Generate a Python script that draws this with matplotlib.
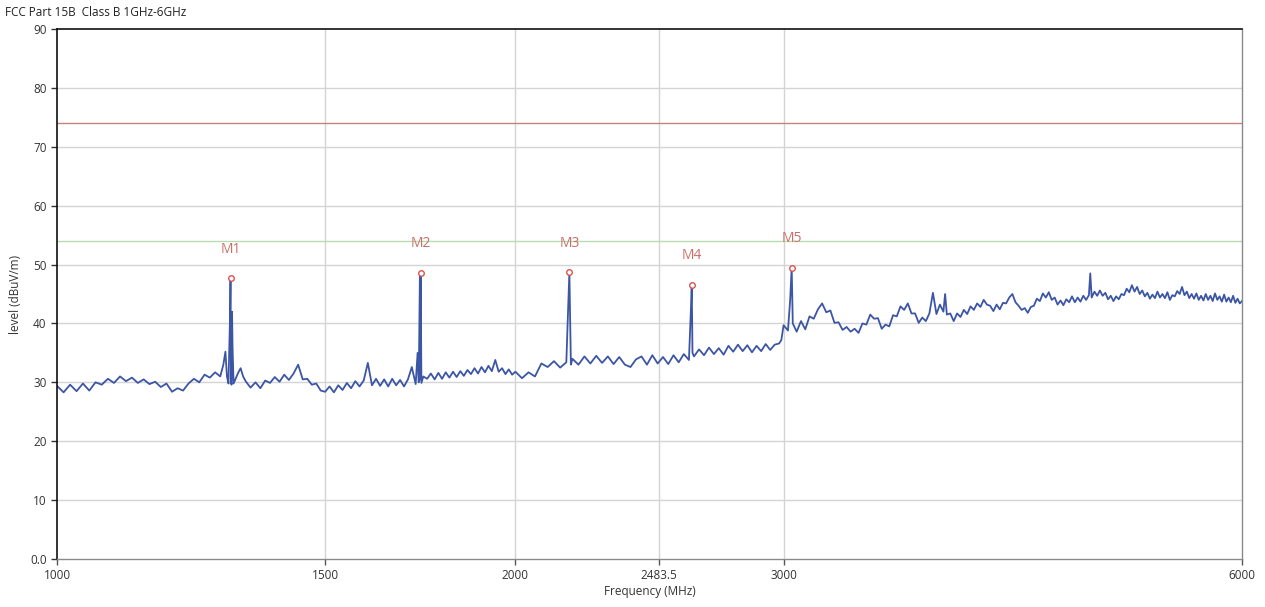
import matplotlib
matplotlib.use("Agg")
import matplotlib.pyplot as plt
from matplotlib.ticker import FixedLocator, FixedFormatter, NullLocator

# measured trace 1000-3000 MHz (MHz, dBuV/m)
freq_lo = [
    1000, 1010, 1020, 1030, 1040, 1050, 1060, 1070, 1080, 1090, 1100, 1110, 1120, 1130, 1140,
    1150, 1160, 1170, 1180, 1190, 1200, 1210, 1220, 1230, 1240, 1250, 1260, 1270, 1280,
    1286, 1290, 1293, 1296, 1299, 1300, 1301, 1302, 1303, 1304, 1306, 1310, 1315, 1320, 1325,
    1330, 1340, 1350, 1360, 1370, 1380, 1390, 1400, 1410, 1420, 1430, 1440, 1450, 1460, 1470,
    1480, 1490, 1500, 1510, 1520, 1530, 1540, 1550, 1560, 1570, 1580, 1590, 1600, 1610, 1620,
    1630, 1640, 1650, 1660, 1670, 1680, 1690, 1700, 1710, 1720, 1725, 1728, 1731, 1732, 1733,
    1735, 1740, 1750, 1760, 1770, 1780, 1790, 1800, 1810, 1820, 1830, 1840, 1850, 1860, 1870,
    1880, 1890, 1900, 1910, 1920, 1930, 1940, 1950, 1960, 1970, 1980, 1990, 2000, 2020, 2040,
    2060, 2080, 2100, 2120, 2140, 2160, 2165, 2170, 2172, 2175, 2180, 2200, 2220, 2240, 2260,
    2280, 2300, 2320, 2340, 2360, 2380, 2400, 2420, 2440, 2460, 2480, 2500, 2520, 2540, 2560,
    2580, 2600, 2608, 2611, 2614, 2620, 2640, 2660, 2680, 2700, 2720, 2740, 2760, 2780, 2800,
    2820, 2840, 2860, 2880, 2900, 2920, 2940, 2960, 2980, 2990, 3000,
]
level_lo = [
    29.4, 28.3, 29.6, 28.5, 29.8, 28.6, 30.0, 29.6, 30.6, 29.9, 31.0, 30.2, 30.8, 29.9, 30.5,
    29.7, 30.1, 29.2, 29.8, 28.4, 29.0, 28.6, 29.8, 30.6, 30.0, 31.3, 30.8, 31.7, 31.0,
    33.0, 35.2, 31.0, 29.8, 41.0, 47.7, 30.0, 29.6, 42.0, 36.0, 29.8, 30.6, 31.6, 32.4, 31.0,
    30.2, 29.1, 30.0, 29.0, 30.3, 29.9, 30.9, 30.1, 31.3, 30.4, 31.5, 33.0, 30.5, 30.6, 29.6,
    29.8, 28.6, 28.4, 29.3, 28.3, 29.5, 28.7, 29.9, 29.0, 30.2, 29.3, 30.3, 33.3, 29.5, 30.6,
    29.4, 30.5, 29.3, 30.6, 29.5, 30.4, 29.3, 30.5, 32.6, 29.7, 35.0, 30.0, 48.0, 30.5, 48.6,
    29.9, 31.0, 30.6, 31.5, 30.5, 31.6, 30.6, 31.7, 30.8, 31.8, 30.9, 31.9, 31.1, 32.1, 31.4,
    32.4, 31.5, 32.6, 31.7, 32.8, 31.9, 33.8, 31.8, 32.4, 31.4, 32.2, 31.3, 31.8, 30.7, 31.7,
    31.0, 33.2, 32.6, 33.6, 32.5, 33.4, 41.0, 48.7, 42.6, 33.0, 34.0, 33.0, 34.4, 33.2, 34.5,
    33.3, 34.4, 33.1, 34.3, 33.0, 32.6, 33.9, 34.4, 33.0, 34.6, 33.2, 34.3, 33.1, 34.6, 33.4,
    34.8, 33.8, 42.6, 46.6, 35.0, 34.4, 35.6, 34.6, 35.9, 34.8, 35.8, 34.7, 36.2, 35.2, 36.4,
    35.3, 36.3, 35.1, 36.2, 35.3, 36.5, 35.5, 36.4, 36.6, 37.2, 39.7,
]

# measured trace 3000-6000 MHz
freq_hi = [
    3020, 3030, 3037, 3042, 3060, 3080, 3100, 3120, 3140, 3160,
    3180, 3200, 3220, 3240, 3260, 3280, 3300, 3320, 3340, 3360,
    3380, 3400, 3420, 3440, 3460, 3480, 3500, 3520, 3540, 3560,
    3580, 3600, 3620, 3640, 3660, 3680, 3700, 3720, 3740, 3760,
    3780, 3800, 3820, 3830, 3840, 3860, 3880, 3900, 3920, 3940,
    3960, 3980, 4000, 4020, 4040, 4060, 4080, 4100, 4120, 4140,
    4160, 4180, 4200, 4220, 4240, 4260, 4280, 4300, 4320, 4340,
    4360, 4380, 4400, 4420, 4440, 4460, 4480, 4500, 4520, 4540,
    4560, 4580, 4600, 4620, 4640, 4660, 4680, 4700, 4720, 4740,
    4760, 4770, 4780, 4800, 4820, 4840, 4860, 4880, 4900, 4920,
    4940, 4960, 4980, 5000, 5020, 5040, 5060, 5080, 5100, 5120,
    5140, 5160, 5180, 5200, 5220, 5240, 5260, 5280, 5300, 5320,
    5340, 5360, 5380, 5400, 5420, 5440, 5460, 5480, 5500, 5520,
    5540, 5560, 5580, 5600, 5620, 5640, 5660, 5680, 5700, 5720,
    5740, 5760, 5780, 5800, 5820, 5840, 5860, 5880, 5900, 5920,
    5940, 5960, 5980, 6000,
]
level_hi = [
    38.8, 44.0, 49.5, 40.0, 38.6, 40.4, 39.0, 41.2, 40.8, 42.4,
    43.4, 41.9, 42.2, 40.1, 40.2, 38.9, 39.4, 38.6, 39.1, 38.4,
    40.0, 39.8, 41.5, 40.8, 40.9, 39.1, 39.8, 39.5, 41.4, 41.2,
    42.9, 42.3, 43.4, 41.7, 41.7, 40.1, 41.0, 40.4, 41.7, 45.2,
    41.6, 43.2, 42.0, 45.0, 41.5, 41.7, 40.4, 41.7, 41.1, 42.3,
    41.6, 42.9, 42.3, 43.4, 42.8, 44.0, 43.2, 43.0, 42.1, 43.2,
    42.4, 43.5, 43.4, 44.4, 45.0, 43.6, 43.0, 42.3, 42.6, 41.8,
    42.8, 43.0, 44.2, 43.8, 45.1, 44.4, 45.3, 44.0, 44.4, 43.2,
    43.9, 43.1, 44.1, 43.6, 44.6, 43.6, 44.4, 43.7, 44.7, 44.0,
    44.8, 48.5, 44.4, 45.4, 44.7, 45.6, 44.7, 45.2, 44.1, 44.7,
    43.8, 44.6, 44.1, 45.0, 44.8, 45.9, 45.3, 46.5, 45.4, 46.2,
    45.0, 45.6, 44.6, 45.2, 44.2, 44.9, 44.3, 45.4, 44.4, 45.0,
    44.3, 45.3, 44.0, 44.8, 44.6, 45.5, 45.0, 46.2, 44.8, 45.4,
    44.3, 45.0, 44.2, 45.1, 44.0, 44.7, 43.9, 45.0, 44.0, 44.7,
    43.8, 45.1, 44.0, 44.6, 43.7, 44.9, 43.7, 44.4, 43.6, 44.7,
    43.5, 44.2, 43.4, 43.8,
]

marker_names = ["M1", "M2", "M3", "M4", "M5"]
marker_freq = [1300, 1733, 2170, 2611, 3037]
marker_level = [47.7, 48.6, 48.7, 46.6, 49.5]

limit_peak = 74
limit_avg = 54

xticks = [1000, 1500, 2000, 2483.5, 3000, 6000]
xtick_labels = ["1000", "1500", "2000", "2483.5", "3000", "6000"]
yticks = [0, 10, 20, 30, 40, 50, 60, 70, 80, 90]
ytick_labels = ["0.0", "10", "20", "30", "40", "50", "60", "70", "80", "90"]

plt.rcParams["font.family"] = ["Open Sans", "DejaVu Sans"]

fig = plt.figure(figsize=(12.65, 6.07), dpi=100)
ax = fig.add_axes([57 / 1265, 1 - 559 / 607, (1242 - 57) / 1265, (559 - 29) / 607])

ax.set_xscale("log")
ax.set_xlim(1000, 6000)
ax.set_ylim(0, 90)

# grid
for y in yticks[1:-1]:
    ax.axhline(y, color="#d4d4d4", lw=1, zorder=0)
for x in xticks[1:-1]:
    ax.axvline(x, color="#d4d4d4", lw=1, zorder=0)

ax.axhline(limit_peak, color="#c0867c", lw=1, zorder=1)
ax.axhline(limit_avg, color="#b8dcb0", lw=1, zorder=1)

ax.plot(freq_lo + freq_hi, level_lo + level_hi, color="#3c56a5", lw=1.3, zorder=2)

ax.plot(marker_freq, marker_level, "o", ms=4, mfc="white", mec="#d9534f", mew=1, zorder=3)
for name, f, lv in zip(marker_names, marker_freq, marker_level):
    ax.text(f, lv + 4.9, name, color="#c8706a", fontsize=10, ha="center", va="center")

ax.xaxis.set_major_locator(FixedLocator(xticks))
ax.xaxis.set_major_formatter(FixedFormatter(xtick_labels))
ax.xaxis.set_minor_locator(NullLocator())
ax.yaxis.set_major_locator(FixedLocator(yticks))
ax.yaxis.set_major_formatter(FixedFormatter(ytick_labels))
ax.tick_params(axis="both", labelsize=8.5, colors="#333333", length=4, width=1)
ax.tick_params(axis="x", colors="#555555", labelcolor="#333333")

for side in ["top", "left"]:
    ax.spines[side].set_color("#111111")
    ax.spines[side].set_linewidth(1.2)
for side in ["bottom", "right"]:
    ax.spines[side].set_color("#8a8a8a")
    ax.spines[side].set_linewidth(1)

ax.set_xlabel("Frequency (MHz)", fontsize=8.5, color="#333333", labelpad=2)
ax.set_ylabel("level (dBuV/m)", fontsize=8.5, color="#333333", labelpad=6)
fig.text(5 / 1265, 1 - 12 / 607, "FCC Part 15B  Class B 1GHz-6GHz", fontsize=8.5,
         color="#222222", va="center", ha="left")

fig.savefig("out.png", dpi=100)
